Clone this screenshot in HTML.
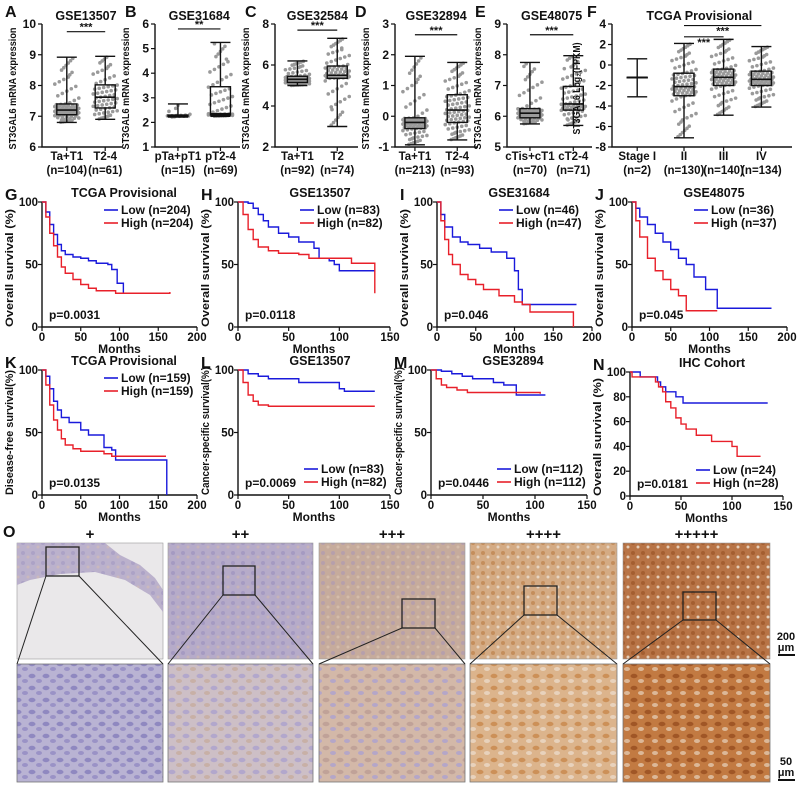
<!DOCTYPE html>
<html><head><meta charset="utf-8">
<style>
html,body{margin:0;padding:0;background:#fff;}
svg{display:block;font-family:"Liberation Sans",Arial,sans-serif;font-weight:bold;}
</style></head>
<body>
<svg id="fig" width="799" height="787" viewBox="0 0 799 787" xmlns="http://www.w3.org/2000/svg">
<defs>
<pattern id="cellsBlue" width="14" height="12" patternUnits="userSpaceOnUse"><rect width="14" height="12" fill="#b9b3d3"/><ellipse cx="4" cy="4" rx="3.5" ry="2.2" fill="#8f88c0"/><ellipse cx="11" cy="9" rx="3" ry="2" fill="#9a92c6"/></pattern>
<pattern id="cellsLav" width="14" height="12" patternUnits="userSpaceOnUse"><rect width="14" height="12" fill="#cdbfc6"/><ellipse cx="4" cy="4" rx="3.5" ry="2.2" fill="#b2a7cc"/><ellipse cx="11" cy="9" rx="3" ry="2" fill="#c8b0a6"/></pattern>
<pattern id="cellsTan" width="14" height="12" patternUnits="userSpaceOnUse"><rect width="14" height="12" fill="#d3b8a8"/><ellipse cx="4" cy="4" rx="3.5" ry="2.2" fill="#c0a298"/><ellipse cx="11" cy="9" rx="3" ry="2" fill="#b4a6c8"/></pattern>
<pattern id="cellsOr" width="14" height="12" patternUnits="userSpaceOnUse"><rect width="14" height="12" fill="#dcb48c"/><ellipse cx="4" cy="4" rx="3.5" ry="2.2" fill="#cc9058"/><ellipse cx="11" cy="9" rx="3" ry="2" fill="#e8d2bc"/></pattern>
<pattern id="cellsBr" width="14" height="12" patternUnits="userSpaceOnUse"><rect width="14" height="12" fill="#c27a42"/><ellipse cx="4" cy="4" rx="3.5" ry="2.2" fill="#a05626"/><ellipse cx="11" cy="9" rx="3" ry="2" fill="#dcb898"/></pattern>
<pattern id="lowLav" width="10" height="10" patternUnits="userSpaceOnUse"><rect width="10" height="10" fill="#b6abc9"/><circle cx="3" cy="3" r="2" fill="#a59ac2"/><circle cx="8" cy="7" r="1.5" fill="#c6b3b8"/></pattern>
<pattern id="lowTan" width="10" height="10" patternUnits="userSpaceOnUse"><rect width="10" height="10" fill="#c6ab9c"/><circle cx="3" cy="3" r="2" fill="#b69fab"/><circle cx="8" cy="7" r="1.5" fill="#d4bcaa"/></pattern>
<pattern id="lowOr" width="10" height="10" patternUnits="userSpaceOnUse"><rect width="10" height="10" fill="#d4ab84"/><circle cx="3" cy="3" r="2" fill="#c48e5c"/><circle cx="8" cy="7" r="1.5" fill="#e6d4c2"/></pattern>
<pattern id="lowBr" width="10" height="10" patternUnits="userSpaceOnUse"><rect width="10" height="10" fill="#b87446"/><circle cx="3" cy="3" r="2" fill="#a45e30"/><circle cx="8" cy="7" r="1.5" fill="#e4ccb6"/></pattern>
</defs>
</svg>
<script>
// ---------- Box-plot data ----------
const boxA_cats = ["Ta+T1","T2-4"];
const boxA_ns = ["(n=104)","(n=61)"];
const boxA_stats = [[6.8,7.05,7.2,7.4,8.92],[6.9,7.27,7.62,8.02,8.95]];
const boxA_ticks = [6,7,8,9,10];
const boxB_cats = ["pTa+pT1","pT2-4"];
const boxB_ns = ["(n=15)","(n=69)"];
const boxB_stats = [[2.22,2.25,2.27,2.3,2.75],[2.25,2.3,2.35,3.45,5.25]];
const boxB_ticks = [1,2,3,4,5,6];
const boxC_cats = ["Ta+T1","T2"];
const boxC_ns = ["(n=92)","(n=74)"];
const boxC_stats = [[5.0,5.15,5.3,5.45,6.2],[3.0,5.35,5.5,5.95,7.3]];
const boxC_ticks = [2,4,6,8];
const boxD_cats = ["Ta+T1","T2-4"];
const boxD_ns = ["(n=213)","(n=93)"];
const boxD_stats = [[-0.93,-0.4,-0.2,-0.05,1.95],[-0.77,-0.2,0.2,0.7,1.75]];
const boxD_ticks = [-1,0,1,2,3];
const boxE_cats = ["cTis+cT1","cT2-4"];
const boxE_ns = ["(n=70)","(n=71)"];
const boxE_stats = [[5.75,5.95,6.1,6.25,7.75],[5.7,6.2,6.4,6.97,7.97]];
const boxE_ticks = [5,6,7,8,9];
const boxF_cats = ["Stage I","II","III","IV"];
const boxF_ns = ["(n=2)","(n=130)","(n=140)","(n=134)"];
const boxF_stats = [[-3.1,-1.2,-1.2,-1.2,0.6],[-7.1,-3.0,-2.1,-0.8,2.1],[-4.9,-2.0,-1.2,-0.4,2.5],[-4.1,-2.0,-1.4,-0.6,1.8]];
const boxF_ticks = [-8,-6,-4,-2,0,2,4];
const boxA_sig = [[0,1,"***",9.75]];
const boxB_sig = [[0,1,"**",5.8]];
const boxC_sig = [[0,1,"***",7.7]];
const boxD_sig = [[0,1,"***",2.65]];
const boxE_sig = [[0,1,"***",8.65]];
const boxF_sig = [[1,3,"***",3.85],[1,2,"***",2.75]];

// ---------- Kaplan-Meier data [month, survival %] ----------
const kmG_low = [[0,100],[5,92],[10,82],[15,74],[20,66],[25,61],[30,58],[40,56],[50,55],[60,53],[70,51],[85,50],[90,46],[97,35],[105,27],[165,27]];
const kmG_high = [[0,100],[5,88],[10,75],[15,65],[20,56],[25,48],[30,43],[40,38],[50,34],[60,31],[70,29],[95,27],[165,28]];
const kmH_low = [[0,100],[10,99],[15,95],[20,90],[25,85],[30,80],[40,75],[50,72],[60,68],[75,63],[80,55],[90,53],[95,50],[100,45],[135,45]];
const kmH_high = [[0,100],[5,90],[10,78],[15,70],[20,64],[30,61],[40,59],[60,58],[70,55],[110,55],[112,51],[134,51],[135,27]];
const kmI_low = [[0,100],[5,90],[10,80],[20,72],[30,68],[40,66],[55,63],[70,60],[90,55],[100,45],[105,30],[110,18],[180,18]];
const kmI_high = [[0,100],[5,85],[10,70],[15,58],[20,50],[30,42],[40,38],[50,34],[60,30],[80,25],[100,20],[110,18],[120,12],[175,12],[176,0]];
const kmJ_low = [[0,100],[5,95],[10,88],[20,82],[30,75],[40,68],[50,62],[60,55],[70,50],[80,40],[95,30],[110,15],[180,15]];
const kmJ_high = [[0,100],[5,85],[10,72],[20,55],[30,45],[40,38],[50,30],[60,25],[70,13],[110,13]];
const kmK_low = [[0,100],[5,95],[10,85],[15,75],[20,68],[25,62],[35,58],[50,52],[60,48],[75,48],[80,38],[90,36],[95,28],[160,28],[161,0]];
const kmK_high = [[0,100],[5,88],[10,72],[15,60],[20,52],[25,45],[30,40],[40,37],[50,35],[80,33],[90,31],[160,31]];
const kmL_low = [[0,100],[10,97],[20,95],[30,93],[60,90],[100,85],[105,83],[135,83]];
const kmL_high = [[0,100],[5,90],[10,80],[15,75],[20,72],[30,71],[135,71]];
const kmM_low = [[0,100],[10,99],[20,97],[30,95],[40,93],[60,90],[70,88],[82,80],[110,80]];
const kmM_high = [[0,100],[5,93],[10,88],[15,86],[25,84],[35,82],[100,82],[105,81]];
const kmN_low = [[0,100],[10,96],[27,92],[30,88],[35,84],[45,80],[52,75],[135,75]];
const kmN_high = [[0,100],[2,96],[25,92],[28,88],[32,84],[35,76],[40,71],[45,63],[50,58],[55,54],[65,49],[80,44],[100,40],[105,32],[128,32]];

const svg = document.getElementById('fig');
const NS = 'http://www.w3.org/2000/svg';
function mk(tag, attrs, parent){
  const e = document.createElementNS(NS, tag);
  for (const k in attrs) e.setAttribute(k, attrs[k]);
  (parent||svg).appendChild(e);
  return e;
}
function txt(s, x, y, size, anchor, parent, extra){
  const e = mk('text', Object.assign({x:x, y:y, 'font-size':size, 'text-anchor':anchor||'middle', fill:'#111'}, extra||{}), parent);
  e.textContent = s;
  return e;
}

// ---------- Box panels ----------
function boxPanel(id, letter, lx, title, x0, x1, fr, cats, ns, stats, ticks, sig, ylab, ylen, yoff){
  const g = mk('g', {});
  
  
  const yT = 24, yB = 147, lo = ticks[0], hi = ticks[ticks.length-1];
  const Y = v => yB - (v - lo) / (hi - lo) * (yB - yT);
  const X = i => x0 + fr[i] * (x1 - x0);
  const L = txt(letter, lx, 17, 16, 'start', g);
  
  
  const T = txt(title, (X(0) + X(cats.length-1)) / 2, 20, 12.5, 'middle', g);
  
  
  const ax = mk('path', {d:`M${x0},${yT} V${yB} H${x1}`, stroke:'#111', 'stroke-width':1.4, fill:'none'}, g);
  
  
  ticks.forEach(t => {
    mk('line', {x1:x0-4, x2:x0, y1:Y(t), y2:Y(t), stroke:'#111', 'stroke-width':1.2}, g);
    const tl = txt(String(t), x0 - 6, Y(t) + 4, 12, 'end', g);
    
    
  });
  const yl = txt(ylab, 0, 0, 10, 'middle', g, {transform:`translate(${x0-yoff},${(yT+yB)/2+3}) rotate(-90)`, textLength:ylen, lengthAdjust:'spacingAndGlyphs'});
  
  
  cats.forEach((c, i) => {
    const cx = X(i);
    mk('line', {x1:cx, x2:cx, y1:yB, y2:yB+4, stroke:'#111', 'stroke-width':1.2}, g);
    const cl = txt(c, cx, 160, 11.5, 'middle', g);
    
    
    const nl = txt(ns[i], cx, 174, 11.5, 'middle', g);
    
    
    const s = stats[i];
    const n = parseInt(ns[i].replace(/\D/g, ''), 10);
    const nd = Math.min(n, 80);
    if (n > 5) {
      for (let k = 0; k < nd; k++) {
        const q = (k + 0.5) / nd;
        let v;
        if (q < 0.25) v = s[0] + (s[1]-s[0]) * (q/0.25);
        else if (q < 0.5) v = s[1] + (s[2]-s[1]) * ((q-0.25)/0.25);
        else if (q < 0.75) v = s[2] + (s[3]-s[2]) * ((q-0.5)/0.25);
        else v = s[3] + (s[4]-s[3]) * ((q-0.75)/0.25);
        const jit = ((k * 37) % 17) / 16 - 0.5;
        const spread = (q > 0.1 && q < 0.9) ? 24 : 12;
        const d = mk('circle', {cx:cx + jit*spread, cy:Y(v), r:1.8, fill:'#9a9a9a'}, g);
        
        
      }
    }
    const bw = 10;
    const wh = mk('path', {d:`M${cx},${Y(s[0])} V${Y(s[1])} M${cx},${Y(s[3])} V${Y(s[4])} M${cx-bw},${Y(s[0])} H${cx+bw} M${cx-bw},${Y(s[4])} H${cx+bw}`, stroke:'#111', 'stroke-width':1.4, fill:'none'}, g);
    
    
    const bx = mk('rect', {x:cx-bw, y:Y(s[3]), width:2*bw, height:Math.max(0.5, Y(s[1])-Y(s[3])), fill:'none', stroke:'#111', 'stroke-width':1.4}, g);
    
    
    const md = mk('line', {x1:cx-bw, x2:cx+bw, y1:Y(s[2]), y2:Y(s[2]), stroke:'#111', 'stroke-width':1.6}, g);
    
    
  });
  sig.forEach(sg => {
    const a = X(sg[0]), b = X(sg[1]), yy = Y(sg[3]);
    const sl = mk('line', {x1:a, x2:b, y1:yy, y2:yy, stroke:'#111', 'stroke-width':1.2}, g);
    
    
    const st = txt(sg[2], (a+b)/2, yy + (sig.length > 1 ? 9 : -1), 11, 'middle', g);
    
    
  });
}
const YL = "ST3GAL6 mRNA expression";
boxPanel('a','A',5,'GSE13507',42,122,[0.31,0.79],boxA_cats,boxA_ns,boxA_stats,boxA_ticks,boxA_sig,YL,122,26);
boxPanel('b','B',125,'GSE31684',155,240,[0.27,0.77],boxB_cats,boxB_ns,boxB_stats,boxB_ticks,boxB_sig,YL,122,26);
boxPanel('c','C',245,'GSE32584',275,358,[0.27,0.75],boxC_cats,boxC_ns,boxC_stats,boxC_ticks,boxC_sig,YL,122,26);
boxPanel('d','D',355,'GSE32894',395,478,[0.24,0.75],boxD_cats,boxD_ns,boxD_stats,boxD_ticks,boxD_sig,YL,122,26);
boxPanel('e','E',475,'GSE48075',507,592,[0.27,0.78],boxE_cats,boxE_ns,boxE_stats,boxE_ticks,boxE_sig,YL,122,26);
boxPanel('f','F',587,'TCGA Provisional',612,792,[0.14,0.40,0.62,0.83],boxF_cats,boxF_ns,boxF_stats,boxF_ticks,boxF_sig,"ST3GAL6 Log\u2082(FPKM)",92,32);

// ---------- KM panels ----------
function kmPanel(id, letter, title, x0, x1, xmax, xticks, yT, yB, yticks, low, high, lowLab, highLab, pval, ylab, ylen, legendBottom){
  const g = mk('g', {});
  
  
  const X = v => x0 + v / xmax * (x1 - x0);
  const Y = v => yB - v / 100 * (yB - yT);
  const L = txt(letter, x0 - 37, yT - 2, 16, 'start', g);
  
  
  const T = txt(title, x0 + 82, yT - 5, 12.5, 'middle', g);
  
  
  const ax = mk('path', {d:`M${x0},${yT} V${yB} H${x1}`, stroke:'#111', 'stroke-width':1.4, fill:'none'}, g);
  
  
  yticks.forEach(t => {
    mk('line', {x1:x0-4, x2:x0, y1:Y(t), y2:Y(t), stroke:'#111', 'stroke-width':1.2}, g);
    const tl = txt(String(t), x0 - 4, Y(t) + 4, 11.5, 'end', g);
    
    
  });
  xticks.forEach(t => {
    mk('line', {x1:X(t), x2:X(t), y1:yB, y2:yB+4, stroke:'#111', 'stroke-width':1.2}, g);
    const tl = txt(String(t), X(t), yB + 14, 11.5, 'middle', g);
    
    
  });
  const xl = txt('Months', (x0 + x1) / 2, yB + 26, 12, 'middle', g);
  
  
  const yl = txt(ylab, 0, 0, 11, 'middle', g, {transform:`translate(${x0-29},${yB - ylen/2}) rotate(-90)`, textLength:ylen, lengthAdjust:'spacingAndGlyphs'});
  
  
  const step = (arr) => {
    let d = `M${X(arr[0][0])},${Y(arr[0][1])}`;
    for (let i = 1; i < arr.length; i++) d += ` H${X(arr[i][0])} V${Y(arr[i][1])}`;
    return d;
  };
  const lc = mk('path', {d:step(low), stroke:'#1a1adb', 'stroke-width':1.4, fill:'none'}, g);
  
  
  const hc = mk('path', {d:step(high), stroke:'#e8202a', 'stroke-width':1.4, fill:'none'}, g);
  
  
  const ly = legendBottom ? yB - 22 : yT + 12;
  const lx = x0 + (legendBottom ? 66 : 62);
  [[lowLab,'#1a1adb',ly],[highLab,'#e8202a',ly+13]].forEach((e, i) => {
    const ll = mk('line', {x1:lx, x2:lx+14, y1:e[2]-4, y2:e[2]-4, stroke:e[1], 'stroke-width':1.6}, g);
    
    
    const lt = txt(e[0], lx + 17, e[2], 12, 'start', g);
    
    
  });
  const pt = txt(pval, x0 + 7, yB - 8, 12, 'start', g);
  
  
}
const y50 = [0,50,100];
kmPanel('g','G','TCGA Provisional',42,197,200,[0,50,100,150,200],202,327,y50,kmG_low,kmG_high,'Low (n=204)','High (n=204)','p=0.0031','Overall survival (%)',118,false);
kmPanel('h','H','GSE13507',238,390,150,[0,50,100,150],202,327,y50,kmH_low,kmH_high,'Low (n=83)','High (n=82)','p=0.0118','Overall survival (%)',118,false);
kmPanel('i','I','GSE31684',437,592,200,[0,50,100,150,200],202,327,y50,kmI_low,kmI_high,'Low (n=46)','High (n=47)','p=0.046','Overall survival (%)',118,false);
kmPanel('j','J','GSE48075',632,787,200,[0,50,100,150,200],202,327,y50,kmJ_low,kmJ_high,'Low (n=36)','High (n=37)','p=0.045','Overall survival (%)',118,false);
kmPanel('k','K','TCGA Provisional',42,197,200,[0,50,100,150,200],370,495,y50,kmK_low,kmK_high,'Low (n=159)','High (n=159)','p=0.0135','Disease-free survival(%)',125,false);
kmPanel('l','L','GSE13507',238,390,150,[0,50,100,150],370,495,y50,kmL_low,kmL_high,'Low (n=83)','High (n=82)','p=0.0069','Cancer-specific survival(%)',128,true);
kmPanel('m','M','GSE32894',431,587,150,[0,50,100,150],370,495,y50,kmM_low,kmM_high,'Low (n=112)','High (n=112)','p=0.0446','Cancer-specific survival(%)',128,true);
kmPanel('n','N','IHC Cohort',630,783,150,[0,50,100,150],372,496,[0,20,40,60,80,100],kmN_low,kmN_high,'Low (n=24)','High (n=28)','p=0.0181','Overall survival (%)',118,true);

// ---------- IHC images (panel O) ----------
const ihcLabels = ["+","++","+++","++++","+++++"];
const og = mk('g', {});


const OL = txt('O', 3, 537, 16, 'start', og);


const cols = [[17,163],[168,313],[319,465],[470,617],[623,770]];
const lowFill = ['#eae8ea','url(#lowLav)','url(#lowTan)','url(#lowOr)','url(#lowBr)'];
const hiFill = ['url(#cellsBlue)','url(#cellsLav)','url(#cellsTan)','url(#cellsOr)','url(#cellsBr)'];
const boxes = [[46,547,33,29],[223,566,32,29],[402,599,33,29],[524,586,33,29],[683,592,33,28]];
cols.forEach((c, i) => {
  const w = c[1] - c[0];
  const lab = txt(ihcLabels[i], (c[0] + c[1]) / 2, 539, 15, 'middle', og);
  
  
  const top = mk('rect', {x:c[0], y:543, width:w, height:116, fill:lowFill[i], stroke:'#999', 'stroke-width':0.6}, og);
  
  
  if (i === 0) {
    const band = mk('path', {d:`M17,543 H105 L120,555 L140,565 L155,578 L163,590 V612 L150,595 L125,580 L95,572 L60,574 L30,580 L17,585 Z`, fill:'url(#lowLav)', opacity:0.9}, og);
    
    
  }
  const bot = mk('rect', {x:c[0], y:664, width:w, height:118, fill:hiFill[i], stroke:'#777', 'stroke-width':0.8}, og);
  
  
  const b = boxes[i];
  const ib = mk('rect', {x:b[0], y:b[1], width:b[2], height:b[3], fill:'none', stroke:'#222', 'stroke-width':1.3}, og);
  
  
  const zl = mk('path', {d:`M${b[0]},${b[1]+b[3]} L${c[0]},664 M${b[0]+b[2]},${b[1]+b[3]} L${c[1]},664`, stroke:'#222', 'stroke-width':1, fill:'none'}, og);
  
  
});
[[640,'200'],[765,'50']].forEach(s => {
  const t1 = txt(s[1], 786, s[0], 11, 'middle', og);
  
  
  const t2 = txt('\u03bcm', 786, s[0] + 11, 11, 'middle', og);
  
  
  const sb = mk('line', {x1:778, x2:795, y1:s[0]+15, y2:s[0]+15, stroke:'#111', 'stroke-width':2}, og);
  
  
});
</script>
</body></html>
